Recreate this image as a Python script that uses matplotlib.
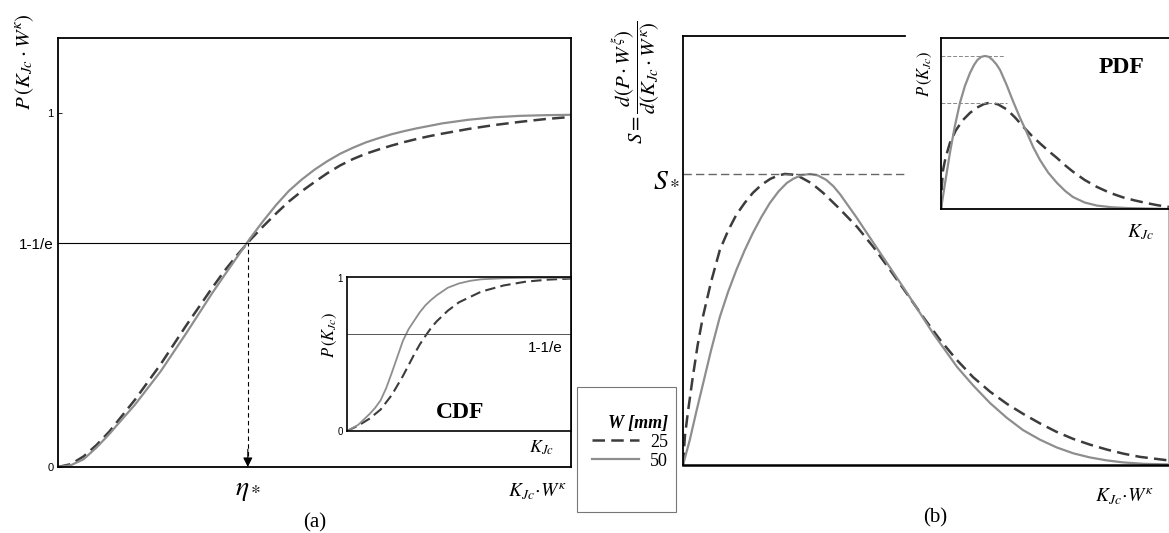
import numpy as np
import matplotlib.pyplot as plt
from matplotlib.patches import Rectangle
from matplotlib.transforms import blended_transform_factory

plt.rcParams['font.family'] = 'serif'
plt.rcParams['font.serif'] = ['Liberation Serif', 'DejaVu Serif']
plt.rcParams['mathtext.fontset'] = 'stix'

# (a) CDF, x normalised to the axis width
cdf_x = [0, 0.025, 0.05, 0.075, 0.1, 0.125, 0.15, 0.2, 0.25, 0.3, 0.325, 0.35, 0.375, 0.4,
         0.425, 0.45, 0.475, 0.5, 0.525, 0.55, 0.575, 0.6, 0.625, 0.65, 0.675, 0.7, 0.725,
         0.75, 0.8, 0.85, 0.9, 0.95, 1.0]
cdf_25 = [0, 0.008, 0.03, 0.062, 0.10, 0.145, 0.19, 0.29, 0.40, 0.505, 0.555, 0.60, 0.642, 0.68,
          0.716, 0.75, 0.779, 0.805, 0.83, 0.852, 0.87, 0.885, 0.897, 0.908, 0.918, 0.927, 0.935,
          0.942, 0.955, 0.966, 0.975, 0.983, 0.989]
cdf_50 = [0, 0.005, 0.022, 0.055, 0.093, 0.135, 0.176, 0.27, 0.378, 0.49, 0.543, 0.595, 0.647, 0.695,
          0.74, 0.78, 0.812, 0.84, 0.864, 0.885, 0.902, 0.917, 0.929, 0.940, 0.949, 0.957, 0.964,
          0.971, 0.981, 0.988, 0.992, 0.994, 0.995]
eta_star = 0.37
p_star = 1 - 1 / np.e

# inset CDF
icdf25_x = [0, 0.05, 0.1, 0.15, 0.2, 0.25, 0.3, 0.325, 0.35, 0.375, 0.4, 0.45, 0.5, 0.6, 0.7, 0.8, 0.9, 1.0]
icdf25 = [0, 0.035, 0.08, 0.14, 0.235, 0.36, 0.5, 0.565, 0.62, 0.672, 0.715, 0.785, 0.84, 0.91,
          0.95, 0.975, 0.988, 0.995]
icdf50_x = [0, 0.05, 0.1, 0.125, 0.15, 0.175, 0.2, 0.225, 0.25, 0.275, 0.3, 0.325, 0.35, 0.375,
            0.4, 0.45, 0.5, 0.55, 0.6, 0.7, 0.8, 0.9, 1.0]
icdf50 = [0, 0.04, 0.11, 0.15, 0.2, 0.28, 0.38, 0.485, 0.59, 0.665, 0.72, 0.775, 0.82, 0.855,
          0.885, 0.935, 0.963, 0.98, 0.99, 0.997, 1.0, 1.0, 1.0]

# (b) S curves, S* = 1
s25_x = [0, 0.004, 0.01, 0.02, 0.03, 0.041, 0.058, 0.076, 0.093, 0.11, 0.127, 0.144, 0.162, 0.18,
         0.195, 0.21, 0.225, 0.241, 0.265, 0.289, 0.32, 0.359, 0.393, 0.427, 0.461, 0.495, 0.53,
         0.564, 0.598, 0.633, 0.668, 0.702, 0.736, 0.77, 0.804, 0.839, 0.874, 0.908, 0.942, 1.0]
s25 = [0, 0.1, 0.18, 0.3, 0.41, 0.509, 0.63, 0.739, 0.805, 0.86, 0.9, 0.935, 0.963, 0.983,
       0.994, 1.0, 0.998, 0.99, 0.968, 0.935, 0.885, 0.818, 0.748, 0.67, 0.59, 0.509, 0.43,
       0.362, 0.302, 0.252, 0.21, 0.175, 0.143, 0.114, 0.09, 0.07, 0.053, 0.039, 0.028, 0.016]
s50_x = [0, 0.014, 0.027, 0.04, 0.058, 0.076, 0.093, 0.11, 0.127, 0.144, 0.162, 0.179, 0.197,
         0.214, 0.228, 0.245, 0.262, 0.278, 0.295, 0.31, 0.324, 0.358, 0.392, 0.427, 0.462, 0.515,
         0.565, 0.599, 0.633, 0.667, 0.701, 0.736, 0.771, 0.805, 0.839, 0.873, 0.907, 0.95, 1.0]
s50 = [0, 0.086, 0.18, 0.27, 0.395, 0.509, 0.595, 0.67, 0.737, 0.797, 0.853, 0.9, 0.94,
       0.969, 0.984, 0.996, 1.0, 0.995, 0.98, 0.958, 0.93, 0.85, 0.765, 0.678, 0.591, 0.454,
       0.337, 0.272, 0.213, 0.163, 0.12, 0.087, 0.06, 0.04, 0.026, 0.016, 0.009, 0.004, 0.002]
s_star = 1.0

# inset PDF
pdf25_x = [0, 0.004, 0.009, 0.02, 0.039, 0.065, 0.096, 0.127, 0.158, 0.187, 0.215, 0.25, 0.289,
           0.325, 0.36, 0.397, 0.434, 0.471, 0.509, 0.544, 0.579, 0.63, 0.684, 0.74, 0.798, 0.85,
           0.904, 0.95, 1.0]
pdf25 = [0, 0.14, 0.228, 0.3, 0.386, 0.46, 0.52, 0.562, 0.593, 0.613, 0.622, 0.612, 0.582,
         0.535, 0.482, 0.43, 0.384, 0.34, 0.298, 0.256, 0.218, 0.17, 0.129, 0.095, 0.068, 0.05,
         0.034, 0.022, 0.012]
pdf50_x = [0, 0.02, 0.039, 0.06, 0.083, 0.105, 0.127, 0.145, 0.16, 0.177, 0.193, 0.21, 0.226,
           0.243, 0.259, 0.288, 0.316, 0.346, 0.377, 0.405, 0.434, 0.47, 0.509, 0.545, 0.579,
           0.63, 0.684, 0.75, 0.829, 1.0]
pdf50 = [0, 0.17, 0.327, 0.48, 0.62, 0.72, 0.795, 0.843, 0.872, 0.89, 0.895, 0.89, 0.872,
         0.846, 0.813, 0.725, 0.63, 0.535, 0.445, 0.36, 0.287, 0.213, 0.152, 0.105, 0.07,
         0.038, 0.02, 0.01, 0.005, 0.0]

W, H = 1169, 533
DARK = '#3c3c3c'
LIGHT = '#8e8e8e'
DASH = (0, (5, 2.5))
SANS = 'Liberation Sans'


def box(l, t, r, b):
    return [l / W, 1 - b / H, (r - l) / W, (b - t) / H]


fig = plt.figure(figsize=(W / 100, H / 100), dpi=100)

# ---- (a) main
ax1 = fig.add_axes(box(58, 38, 571, 467))
l25, = ax1.plot(cdf_x, cdf_25, color=DARK, lw=1.8, ls=DASH)
l50, = ax1.plot(cdf_x, cdf_50, color=LIGHT, lw=1.6)
ax1.axhline(p_star, color='k', lw=0.8)
ax1.vlines(eta_star, 0.03, p_star, colors='k', lw=0.8, linestyles=(0, (4, 3)))
ax1.annotate('', xy=(eta_star, 0), xytext=(eta_star, 0.05),
             arrowprops=dict(arrowstyle='-|>', color='k', lw=0.8, mutation_scale=14,
                             shrinkA=0, shrinkB=0))
ax1.set_xlim(0, 1)
ax1.set_ylim(0, 1.212)
ax1.set_xticks([])
ax1.set_yticks([0, p_star, 1], ['0', '1-1/e', '1'])
ax1.tick_params(axis='y', direction='in', length=3, width=0.6, pad=3, labelsize=8)
for lab in ax1.get_yticklabels():
    lab.set_family(SANS)
ax1.get_yticklabels()[1].set_fontsize(11)
for sp in ax1.spines.values():
    sp.set_linewidth(1.3)
tr = blended_transform_factory(ax1.transData, ax1.transAxes)
ax1.text(eta_star, -0.054, r'$\eta_*$', transform=tr, ha='center', va='center', fontsize=20)

fig.text(25 / W, 1 - 62 / H, r'$P\,(K_{Jc}\cdot W^{\kappa})$', rotation=90,
         ha='center', va='center', fontsize=15)
fig.text(538 / W, 1 - 492 / H, r'$K_{Jc}\!\cdot\! W^{\kappa}$', ha='center', va='center', fontsize=14)
fig.text(315 / W, 1 - 523 / H, '(a)', ha='center', va='center', fontsize=15)

# ---- (a) inset CDF
axi = fig.add_axes(box(347, 277, 571, 431))
axi.plot(icdf25_x, icdf25, color=DARK, lw=1.5, ls=DASH)
axi.plot(icdf50_x, icdf50, color=LIGHT, lw=1.3)
axi.axhline(p_star, color='#555555', lw=0.7)
axi.set_xlim(0, 1)
axi.set_ylim(0, 1.005)
axi.set_xticks([])
axi.set_yticks([0, 1], ['0', '1'])
axi.tick_params(axis='y', length=0, pad=3, labelsize=7)
for lab in axi.get_yticklabels():
    lab.set_family(SANS)
for sp in axi.spines.values():
    sp.set_linewidth(1.2)
axi.text(0.964, 0.539, '1-1/e', transform=axi.transAxes, ha='right', va='center',
         fontsize=11, family=SANS)
axi.text(0.504, 0.123, 'CDF', transform=axi.transAxes, ha='center', va='center',
         fontsize=17, fontweight='bold')
fig.text(330 / W, 1 - 335 / H, r'$P\,(K_{Jc})$', rotation=90, ha='center', va='center', fontsize=12)
fig.text(541 / W, 1 - 448 / H, r'$K_{Jc}$', ha='center', va='center', fontsize=13)

# ---- legend
fig.patches.append(Rectangle((577 / W, 1 - 512 / H), 99 / W, 125 / H, transform=fig.transFigure,
                             fill=False, ec='#777777', lw=0.8))
fig.legend(handles=[l25, l50], labels=['25', '50'], loc='upper right',
           bbox_to_anchor=(668 / W, 1 - 415 / H), frameon=False, fontsize=13,
           handlelength=2.6, handletextpad=0.6, labelspacing=0.1, borderpad=0,
           borderaxespad=0, alignment='right', title='W [mm]',
           title_fontproperties={'family': 'serif', 'style': 'italic', 'weight': 'bold', 'size': 13})

# ---- (b) main
ax2 = fig.add_axes(box(683, 36, 1168, 465))
ax2.plot(s25_x, s25, color=DARK, lw=1.8, ls=DASH)
ax2.plot(s50_x, s50, color=LIGHT, lw=1.6)
ax2.hlines(s_star, 0, 0.457, colors='#666666', lw=1, linestyles=(0, (6, 3)))
ax2.set_xlim(0, 1)
ax2.set_ylim(0, 1.474)
ax2.set_xticks([])
ax2.set_yticks([])
ax2.spines['left'].set_linewidth(1.3)
ax2.spines['bottom'].set_linewidth(1.8)
ax2.spines['top'].set_linewidth(1.3)
ax2.spines['top'].set_bounds(0, 0.457)
ax2.spines['right'].set_linewidth(0.6)
ax2.spines['right'].set_color('#aaaaaa')
ax2.spines['right'].set_bounds(0, 0.88)

fig.text(636 / W, 1 - 82 / H, r'$S=\dfrac{d(P\cdot W^{\xi})}{d(K_{Jc}\cdot W^{\kappa})}$',
         rotation=90, ha='center', va='center', fontsize=15)
fig.text(667 / W, 1 - 180 / H, r'$S_*$', ha='center', va='center', fontsize=20)
fig.text(1125 / W, 1 - 497 / H, r'$K_{Jc}\!\cdot\! W^{\kappa}$', ha='center', va='center', fontsize=14)
fig.text(935 / W, 1 - 518 / H, '(b)', ha='center', va='center', fontsize=15)

# ---- (b) inset PDF
axp = fig.add_axes(box(941, 38, 1169, 209))
axp.set_zorder(3)
axp.plot(pdf25_x, pdf25, color=DARK, lw=1.8, ls=DASH)
axp.plot(pdf50_x, pdf50, color=LIGHT, lw=1.6)
axp.hlines(max(pdf50), 0, 0.28, colors='#888888', lw=0.7, linestyles=(0, (4, 2)))
axp.hlines(max(pdf25), 0, 0.29, colors='#888888', lw=0.7, linestyles=(0, (4, 2)))
axp.set_xlim(0, 1)
axp.set_ylim(0, 1)
axp.set_xticks([])
axp.set_yticks([])
axp.spines['right'].set_visible(False)
for side in ['left', 'top', 'bottom']:
    axp.spines[side].set_linewidth(1.3)
axp.text(0.794, 0.83, 'PDF', transform=axp.transAxes, ha='center', va='center',
         fontsize=17, fontweight='bold')
fig.text(925 / W, 1 - 74 / H, r'$P\,(K_{Jc})$', rotation=90, ha='center', va='center', fontsize=12)
fig.text(1140 / W, 1 - 232 / H, r'$K_{Jc}$', ha='center', va='center', fontsize=14)

fig.savefig('out.png', dpi=100)
